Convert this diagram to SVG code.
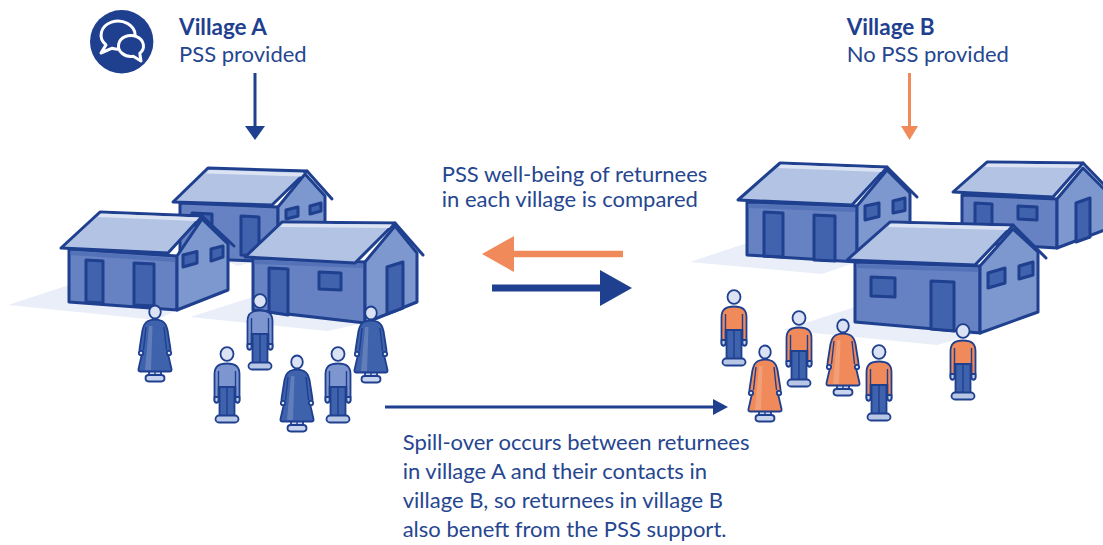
<svg xmlns="http://www.w3.org/2000/svg" width="1103" height="545" viewBox="0 0 1103 545">
<style>
  .ln{stroke:#1f3f8f;stroke-width:3;stroke-linejoin:round;stroke-linecap:round}
  .roof{fill:#b3c3e4}
  .ridge{fill:#dce4f4}
  .front{fill:#6782c2}
  .side{fill:#7d97cf}
  .eave{fill:#5472b8}
  .door{fill:#4162ad}
  .shadow{fill:#e9eef8}
  .t{font-family:Lato,"Liberation Sans",sans-serif;fill:#26468f;font-size:22px}
  .b{font-weight:bold;fill:#1f3f8f;font-size:22.5px}
  .p{stroke:#1f3f8f;stroke-width:1.8;stroke-linejoin:round}
  .thin{stroke:#1f3f8f;stroke-width:1.4;fill:none}
  .blue{color:#7d96cf}
  .bluew{color:#3f62ad}
  .orange{color:#f08a5b}
</style>
<defs>
  <!-- standing man, head centre at origin; shirt colour comes from currentColor -->
  <g id="man">
    <rect class="p" x="-7.5" y="30" width="15" height="33" fill="#3f62ad"/>
    <line class="thin" x1="0" y1="33" x2="0" y2="62"/>
    <rect class="p" x="-11.5" y="61.5" width="23" height="7" rx="3.5" fill="#b9c7e7"/>
    <path class="p" fill="currentColor" d="M-12.5,46 V20 Q-12.5,9.5 0,9.5 Q12.5,9.5 12.5,20 V46 Q12.5,48.5 10.5,48.5 Q8.5,48.5 8.5,46 V33 H-8.5 V46 Q-8.5,48.5 -10.5,48.5 Q-12.5,48.5 -12.5,46 Z"/>
    <path class="thin" d="M-8.5,17 V33 M8.5,17 V33"/>
    <path class="p" fill="#c9d4ee" d="M-12.5,43 V46 Q-12.5,48.5 -10.5,48.5 Q-8.5,48.5 -8.5,46 V43 Z M8.5,43 V46 Q8.5,48.5 10.5,48.5 Q12.5,48.5 12.5,46 V43 Z"/>
    <ellipse class="p" cx="0" cy="0" rx="6.5" ry="6.8" fill="#dae2f3"/>
  </g>
  <!-- standing woman in a long dress, head centre at origin -->
  <g id="woman">
    <rect class="p" x="-6" y="56" width="12" height="9" fill="#c9d4ee"/>
    <line class="thin" x1="0" y1="58" x2="0" y2="64"/>
    <rect class="p" x="-9.5" y="63" width="19" height="6.5" rx="3.2" fill="#c9d4ee"/>
    <path class="p" fill="currentColor" d="M-7,9 Q0,6 7,9 Q11,11 12.5,18 L15.5,37 Q16,39.5 13.5,39.5 L12.5,39.5 L16.5,57 Q17,59.5 14.5,59.5 L-14.5,59.5 Q-17,59.5 -16.5,57 L-12.5,39.5 L-13.5,39.5 Q-16,39.5 -15.5,37 L-12.5,18 Q-11,11 -7,9 Z"/>
    <path fill="#ffffff" fill-opacity="0.18" d="M-6,14 L-10,58 L-4,58 L-2.5,14 Z"/>
    <path class="thin" d="M-9,15 L-11.5,38 M9,15 L11.5,38"/>
    <circle class="p" cx="-14" cy="41" r="2.2" fill="#dae2f3"/>
    <circle class="p" cx="14" cy="41" r="2.2" fill="#dae2f3"/>
    <ellipse class="p" cx="0" cy="0" rx="5.8" ry="6.5" fill="#dae2f3"/>
  </g>
</defs>

<rect width="1103" height="545" fill="#ffffff"/>

<!-- ground shadows -->
<g id="shadows" class="shadow">
  <polygon points="8,305 69,285 69,302 177,310 157,320"/>
  <polygon points="190,317 253,297 253,310 365,323 327,331"/>
  <polygon points="229,262 244,256 252,262 238,266"/>
  <polygon points="690,262 747,243 747,255 857,262 822,274"/>
  <polygon points="783,330 855,307 855,322 980,333 937,345"/>
  <polygon points="1038,250 1057,244 1057,249"/>
</g>

<!-- Village A houses -->
<g id="house-a2">
  <polygon class="front ln" points="180,203 278,207 278,262 180,258"/>
  <polygon class="door ln" points="192,213 212,214 212,226 192,225"/>
  <polygon class="door ln" points="241,216 259,217 259,256 241,255"/>
  <polygon class="side ln" points="278,207 305,174 325,196 325,222 278,240"/>
  <polygon class="door ln" points="286,210 298,207 298,216 286,219"/>
  <polygon class="door ln" points="310,206 321,203 321,211 310,214"/>
  <polygon class="roof ln" points="173,202 208,168 307,171 272,205"/>
  <polygon class="ridge" points="209,170 304,173 301,176.5 206,173.5"/>
  <line class="ln" x1="307" y1="171" x2="332" y2="199"/>
</g>
<g id="house-a1">
  <polygon class="front ln" points="69,249 177,256 177,310 69,302"/>
  <polygon class="eave" points="70.5,251 175.5,258 175.5,262 70.5,255"/>
  <polygon class="door ln" points="86,260 103,261 103,303 86,302"/>
  <polygon class="door ln" points="134,263 154,264 154,306 134,305"/>
  <polygon class="side ln" points="177,256 202,219 228,244 228,290 177,310"/>
  <polygon class="door ln" points="183,255 197,251.5 197,263 183,267"/>
  <polygon class="door ln" points="211,249 223,246 223,257 211,261"/>
  <polygon class="roof ln" points="61,248 100,212 202,216 168,253"/>
  <polygon class="ridge" points="101,213.5 199,217.5 196,221 98,217"/>
  <line class="ln" x1="202" y1="216" x2="234" y2="246"/>
</g>
<g id="house-a3">
  <polygon class="front ln" points="253,258 365,262 365,323 253,310"/>
  <polygon class="eave" points="254.5,260 363.5,264 363.5,268 254.5,264"/>
  <polygon class="door ln" points="269,268 288,269 288,315 269,312"/>
  <polygon class="door ln" points="319,272 341,273 341,290 319,289"/>
  <polygon class="side ln" points="365,262 395,226 417,253 417,302 365,323"/>
  <polygon class="door ln" points="387,267 403,262 403,308 387,314"/>
  <polygon class="roof ln" points="245,257 282,222 395,223 355,263"/>
  <polygon class="ridge" points="283,223.5 392,224.5 389,228 280,227"/>
  <line class="ln" x1="395" y1="223" x2="423" y2="255"/>
</g>

<!-- Village B houses -->
<g id="house-b2">
  <polygon class="front ln" points="962,195 1057,199 1057,248 962,242"/>
  <polygon class="door ln" points="975,203 992,204 992,232 975,231"/>
  <polygon class="door ln" points="1018,206 1037,207 1037,220 1018,219"/>
  <polygon class="side ln" points="1057,199 1083,168 1110,195 1110,228 1057,248"/>
  <polygon class="door ln" points="1076,203 1090,198 1090,237 1076,242"/>
  <polygon class="roof ln" points="953,192 987,162 1083,163 1053,197"/>
  <polygon class="ridge" points="988,163.5 1080,164.5 1077,168 985,167"/>
  <line class="ln" x1="1083" y1="163" x2="1115" y2="196"/>
</g>
<g id="house-b1">
  <polygon class="front ln" points="747,202 857,206 857,262 747,255"/>
  <polygon class="eave" points="748.5,204 855.5,208 855.5,212 748.5,208"/>
  <polygon class="door ln" points="764,212 783,213 783,257 764,256"/>
  <polygon class="door ln" points="814,215 835,216 835,261 814,260"/>
  <polygon class="side ln" points="857,206 887,170 910,193 910,250 857,262"/>
  <polygon class="door ln" points="865,206 879,203 879,216.5 865,220"/>
  <polygon class="door ln" points="893,201 905,198 905,210.5 893,213"/>
  <polygon class="roof ln" points="738,200 780,163 887,167 852,205"/>
  <polygon class="ridge" points="781,164.5 884,168.5 881,172 778,168"/>
  <line class="ln" x1="887" y1="167" x2="917" y2="197"/>
</g>
<g id="house-b3">
  <polygon class="front ln" points="855,262 980,266 980,333 855,322"/>
  <polygon class="eave" points="856.5,264 978.5,268 978.5,272 856.5,268"/>
  <polygon class="door ln" points="871,277 895,278 895,297 871,296"/>
  <polygon class="door ln" points="931,281 954,282 954,331 931,329"/>
  <polygon class="side ln" points="980,266 1013,229 1038,252 1038,312 980,333"/>
  <polygon class="door ln" points="988,273 1005,268 1005,283 988,288"/>
  <polygon class="door ln" points="1019,266 1033,262 1033,275 1019,279"/>
  <polygon class="roof ln" points="847,260 890,222 1013,225 975,265"/>
  <polygon class="ridge" points="891,223.5 1010,226.5 1007,230 888,227"/>
  <line class="ln" x1="1013" y1="225" x2="1046" y2="258"/>
</g>

<!-- returnees, Village A -->
<g id="people-a">
  <use href="#man" class="blue" transform="translate(260,301)"/>
  <use href="#woman" class="bluew" transform="translate(155,312)"/>
  <use href="#woman" class="bluew" transform="translate(371,313)"/>
  <use href="#man" class="blue" transform="translate(227,354)"/>
  <use href="#man" class="blue" transform="translate(338,354)"/>
  <use href="#woman" class="bluew" transform="translate(297,362)"/>
</g>

<!-- returnees, Village B -->
<g id="people-b">
  <use href="#man" class="orange" transform="translate(734,297)"/>
  <use href="#man" class="orange" transform="translate(799,318)"/>
  <use href="#woman" class="orange" transform="translate(843,326)"/>
  <use href="#man" class="orange" transform="translate(963,331)"/>
  <use href="#woman" class="orange" transform="translate(765,352)"/>
  <use href="#man" class="orange" transform="translate(879,352)"/>
</g>

<!-- PSS icon -->
<g id="icon">
  <circle cx="121.7" cy="41.7" r="31.7" fill="#1f3f8f"/>
  <path d="M106,44.9 L101,53 L112.2,48.2 A17 14 0 1 0 106,44.9 Z" fill="#1f3f8f" stroke="#ffffff" stroke-width="3" stroke-linejoin="round"/>
  <path d="M139.8,53.4 L141,61 L133.2,56.3 A12.5 10.5 0 1 1 139.8,53.4 Z" fill="#1f3f8f" stroke="#ffffff" stroke-width="3" stroke-linejoin="round"/>
</g>

<!-- connectors -->
<g id="connectors">
  <line x1="255" y1="73" x2="255" y2="127" stroke="#1f3f8f" stroke-width="3"/>
  <polygon points="245,126 265,126 255,140" fill="#1f3f8f"/>
  <line x1="909.5" y1="73" x2="909.5" y2="127" stroke="#f08a5b" stroke-width="3"/>
  <polygon points="901,126 918,126 909.5,140" fill="#f08a5b"/>
  <line x1="513" y1="254" x2="623" y2="254" stroke="#f08a5b" stroke-width="6.5"/>
  <polygon points="514,236 514,272 482,254" fill="#f08a5b"/>
  <line x1="492" y1="288" x2="602" y2="288" stroke="#1f3f8f" stroke-width="7"/>
  <polygon points="600,270 600,306 632,288" fill="#1f3f8f"/>
  <line x1="385" y1="407" x2="714" y2="407" stroke="#1f3f8f" stroke-width="2.8"/>
  <polygon points="713,399 713,415 728,407" fill="#1f3f8f"/>
</g>

<!-- labels -->
<g id="labels" class="t">
  <text x="179" y="35" class="b">Village A</text>
  <text x="179" y="62">PSS provided</text>
  <text x="846.7" y="34.5" class="b">Village B</text>
  <text x="846.7" y="62">No PSS provided</text>
  <text x="441.7" y="181.7">PSS well-being of returnees</text>
  <text x="441.7" y="206.7">in each village is compared</text>
  <text x="402.7" y="450">Spill-over occurs between returnees</text>
  <text x="402.7" y="479">in village A and their contacts in</text>
  <text x="402.7" y="508">village B, so returnees in village B</text>
  <text x="402.7" y="537">also beneft from the PSS support.</text>
</g>
</svg>
